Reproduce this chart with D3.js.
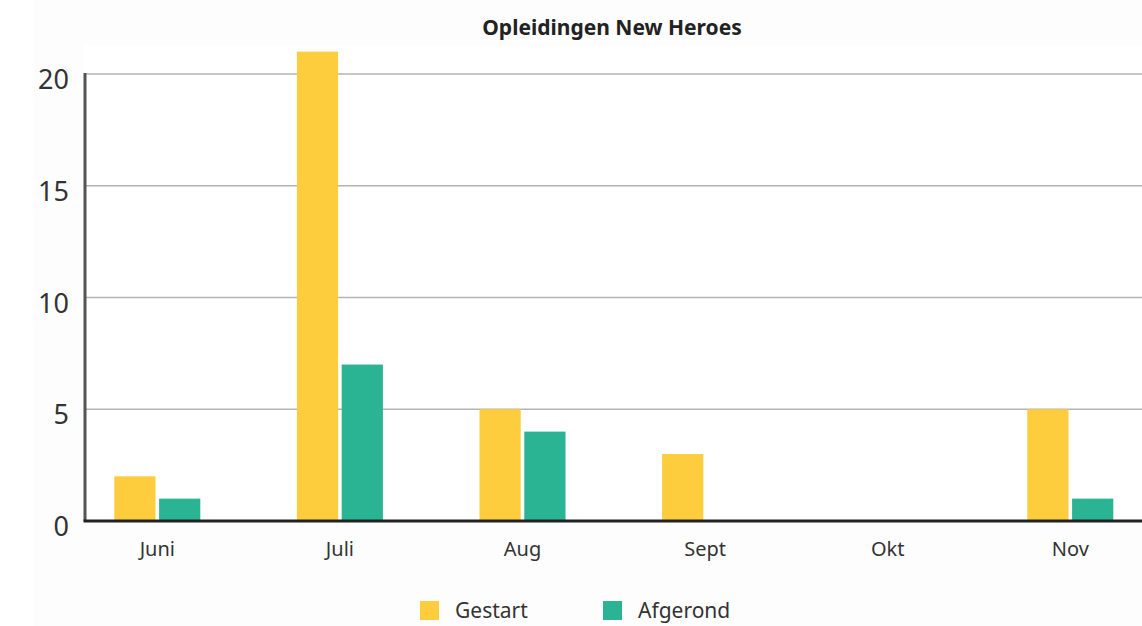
<!DOCTYPE html>
<html>
<head>
<meta charset="utf-8">
<script src="https://cdn.jsdelivr.net/npm/d3@7"></script>
<style>
  body { margin: 0; background: #fff; }
  svg { display: block; font-family: "Noto Sans", "Open Sans", sans-serif; }
</style>
</head>
<body>
<div id="chart"></div>
<script>
// chart data
var months = ['Juni', 'Juli', 'Aug', 'Sept', 'Okt', 'Nov'];
var gestart = [2, 21, 5, 3, 0, 5];
var afgerond = [1, 7, 4, 0, 0, 1];
var yTicks = [0, 5, 10, 15, 20];
var seriesNames = ['Gestart', 'Afgerond'];
var seriesColors = ['#fdcd3e', '#2bb493'];

var width = 1142, height = 626;
var svg = d3.select('#chart').append('svg')
  .attr('width', width)
  .attr('height', height);

// faint backdrop
svg.append('rect').attr('width', width).attr('height', height).attr('fill', '#fdfdfd');
svg.append('rect').attr('x', 0).attr('y', 0).attr('width', 34).attr('height', height).attr('fill', '#fff');

var plotLeft = 85, plotRight = 1142;
var x = d3.scaleBand().domain(months).range([66, 66 + 6 * 182.6]);
var x1 = d3.scaleBand().domain(seriesNames).range([0, 86]).paddingInner(0.08);
var y = d3.scaleLinear().domain([0, 20]).range([521, 74]);

svg.append('rect')
  .attr('x', plotLeft).attr('y', 45)
  .attr('width', plotRight - plotLeft).attr('height', 521 - 45)
  .attr('fill', '#fff');

// grid lines
svg.append('g').selectAll('line')
  .data(yTicks.filter(d => d > 0))
  .join('line')
  .attr('x1', plotLeft).attr('x2', plotRight)
  .attr('y1', d => y(d)).attr('y2', d => y(d))
  .attr('stroke', '#b4b4b4')
  .attr('stroke-width', 1.5);

// y tick labels
svg.append('g').selectAll('text')
  .data(yTicks)
  .join('text')
  .attr('x', 69)
  .attr('y', d => y(d) + 15)
  .attr('text-anchor', 'end')
  .attr('font-size', 27)
  .attr('fill', '#333')
  .text(d => d);

// bars
var groups = svg.append('g').selectAll('g')
  .data(months.map((m, i) => ({ m: m, vals: [gestart[i], afgerond[i]] })))
  .join('g')
  .attr('transform', d => 'translate(' + (x(d.m) + x.bandwidth() / 2 - 43) + ',0)');

groups.selectAll('rect')
  .data(d => d.vals.map((v, k) => ({ k: k, v: v })).filter(e => e.v > 0))
  .join('rect')
  .attr('x', d => x1(seriesNames[d.k]))
  .attr('width', x1.bandwidth())
  .attr('y', d => y(d.v))
  .attr('height', d => y(0) - y(d.v))
  .attr('fill', d => seriesColors[d.k]);

// axis lines
svg.append('line')
  .attr('x1', plotLeft).attr('x2', plotLeft)
  .attr('y1', y(20) - 1).attr('y2', y(0))
  .attr('stroke', '#555').attr('stroke-width', 3);
svg.append('line')
  .attr('x1', plotLeft - 1.5).attr('x2', plotRight)
  .attr('y1', y(0)).attr('y2', y(0))
  .attr('stroke', '#222').attr('stroke-width', 3);

// x labels
svg.append('g').selectAll('text')
  .data(months)
  .join('text')
  .attr('x', d => x(d) + x.bandwidth() / 2)
  .attr('y', 556)
  .attr('text-anchor', 'middle')
  .attr('font-size', 20)
  .attr('fill', '#333')
  .text(d => d);

// title
svg.append('text')
  .attr('x', 612).attr('y', 35)
  .attr('text-anchor', 'middle')
  .attr('font-size', 21)
  .attr('font-weight', 'bold')
  .attr('fill', '#222')
  .text('Opleidingen New Heroes');

// legend
var legendX = [420, 603];
var legend = svg.append('g').selectAll('g')
  .data(seriesNames)
  .join('g')
  .attr('transform', (d, i) => 'translate(' + legendX[i] + ',601)');
legend.append('rect')
  .attr('width', 19).attr('height', 19)
  .attr('fill', (d, i) => seriesColors[i]);
legend.append('text')
  .attr('x', 35).attr('y', 17)
  .attr('font-size', 21)
  .attr('fill', '#333')
  .text(d => d);
</script>
</body>
</html>
